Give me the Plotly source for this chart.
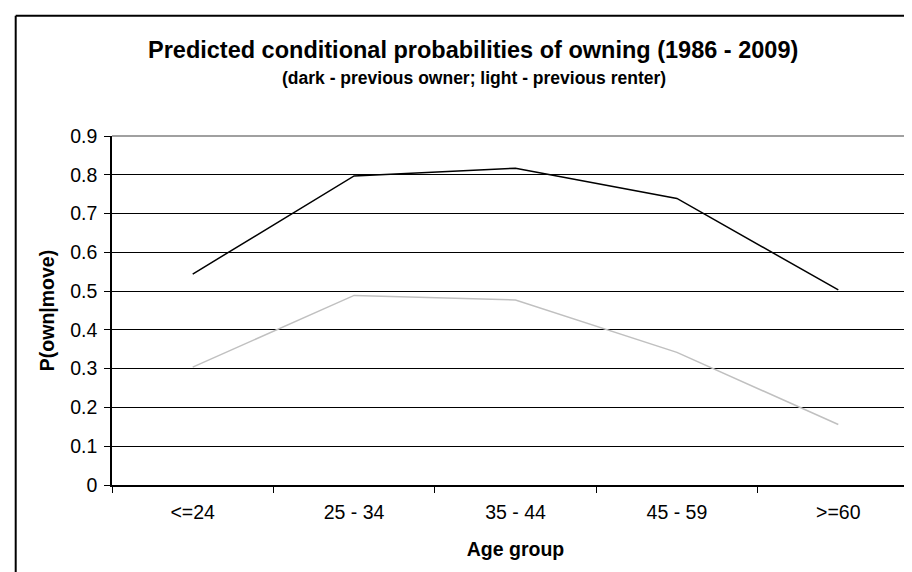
import plotly.graph_objects as go

# ---- data ----
age_groups = ["<=24", "25 - 34", "35 - 44", "45 - 59", ">=60"]
prev_owner = [0.544, 0.797, 0.817, 0.739, 0.503]
prev_renter = [0.304, 0.489, 0.477, 0.342, 0.156]
y_ticks = [0, 0.1, 0.2, 0.3, 0.4, 0.5, 0.6, 0.7, 0.8, 0.9]
y_tick_text = ["0", "0.1", "0.2", "0.3", "0.4", "0.5", "0.6", "0.7", "0.8", "0.9"]

title_text = "Predicted conditional probabilities of owning (1986 - 2009)"
subtitle_text = "(dark - previous owner; light - previous renter)"

FONT = "Liberation Sans, Arial, sans-serif"

# pixel helpers for layout (plot area 104..911 x, 128..477 y)
W, H = 912, 572
L, R, T, B = 104, 1, 128, 95
pw, ph = W - L - R, H - T - B


def px_x(x):
    return (x - L) / pw


def px_y(y):
    return (H - B - y) / ph


fig = go.Figure()
fig.add_trace(go.Scatter(x=age_groups, y=prev_renter, mode="lines",
                         line=dict(color="#c0c0c0", width=1.5), showlegend=False,
                         name="previous renter"))
fig.add_trace(go.Scatter(x=age_groups, y=prev_owner, mode="lines",
                         line=dict(color="#000000", width=1.5), showlegend=False,
                         name="previous owner"))

fig.update_layout(
    width=W, height=H,
    margin=dict(l=L, r=R, t=T, b=B, pad=0),
    paper_bgcolor="white", plot_bgcolor="white",
    font=dict(family=FONT, color="black", size=19.5),
    showlegend=False,
    xaxis=dict(
        type="category", range=[-0.5, 4.5],
        tickson="boundaries", ticks="outside", ticklen=6, tickcolor="black", tickwidth=1.3,
        showline=True, linecolor="black", linewidth=1.5,
        showgrid=False, zeroline=False,
        ticklabelstandoff=9,
        tickfont=dict(size=19.5, family=FONT),
        title=dict(text="<b>Age group</b>", font=dict(size=19.5, family=FONT), standoff=20),
    ),
    yaxis=dict(
        range=[0, 0.9], tickvals=y_ticks, ticktext=y_tick_text,
        ticks="outside", ticklen=6, tickcolor="black", tickwidth=1.3,
        showline=True, linecolor="black", linewidth=1.5,
        showgrid=True, gridcolor="black", gridwidth=1.3,
        zeroline=False,
        ticklabelstandoff=3,
        tickfont=dict(size=19.5, family=FONT),
        title=dict(text="<b>P(own|move)</b>", font=dict(size=19.5, family=FONT), standoff=10),
    ),
    annotations=[
        dict(text="<b>" + title_text + "</b>", xref="paper", yref="paper",
             x=px_x(465), y=px_y(42), xanchor="center", yanchor="middle",
             showarrow=False, font=dict(size=23.5, family=FONT, color="black")),
        dict(text="<b>" + subtitle_text + "</b>", xref="paper", yref="paper",
             x=px_x(466), y=px_y(70), xanchor="center", yanchor="middle",
             showarrow=False, font=dict(size=17.5, family=FONT, color="black")),
    ],
    shapes=[
        # plot-area border (gray) top and right
        dict(type="line", xref="paper", yref="paper", x0=0, x1=1, y0=1, y1=1,
             line=dict(color="#808080", width=1.3), layer="above"),
        dict(type="line", xref="paper", yref="paper", x0=1, x1=1, y0=0, y1=1,
             line=dict(color="#808080", width=1.3), layer="above"),
        # outer chart frame (top and left edges; the rest is cropped away)
        dict(type="line", xref="paper", yref="paper",
             x0=px_x(7.7), x1=px_x(W + 5), y0=px_y(7.7), y1=px_y(7.7),
             line=dict(color="black", width=2), layer="above"),
        dict(type="line", xref="paper", yref="paper",
             x0=px_x(7.7), x1=px_x(7.7), y0=px_y(7.7), y1=px_y(H + 5),
             line=dict(color="black", width=2), layer="above"),
    ],
)

fig.write_html("out.html")
